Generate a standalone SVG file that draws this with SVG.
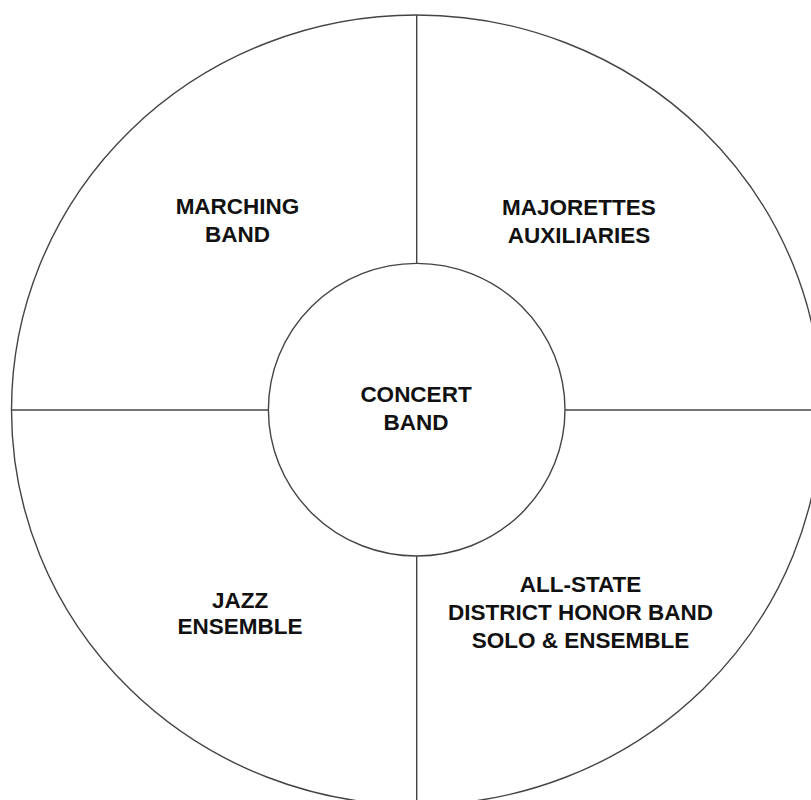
<svg xmlns="http://www.w3.org/2000/svg" width="811" height="800" viewBox="0 0 811 800">
<style>
.ln{fill:none;stroke:#444;stroke-width:1.4}
.t{font-family:"Liberation Sans",Arial,sans-serif;font-weight:bold;font-size:22.5px;fill:#111;text-anchor:middle}
</style>
<rect width="811" height="800" fill="#fff"/>
<g id="outer"><ellipse class="ln" cx="416.5" cy="410" rx="405" ry="395"/></g>
<g id="connectors">
<line class="ln" x1="11.5" y1="410" x2="268.5" y2="410"/>
<line class="ln" x1="565" y1="410" x2="811" y2="410"/>
<line class="ln" x1="416.7" y1="15" x2="416.7" y2="263.5"/>
<line class="ln" x1="416.7" y1="556" x2="416.7" y2="800"/>
</g>
<g id="concert-band">
<ellipse class="ln" cx="416.7" cy="409.7" rx="148.3" ry="146.3"/>
<text class="t" x="416" y="402">CONCERT</text>
<text class="t" x="416" y="429.5">BAND</text>
</g>
<g id="marching-band">
<text class="t" x="237.5" y="214">MARCHING</text>
<text class="t" x="237.5" y="241.7">BAND</text>
</g>
<g id="majorettes">
<text class="t" x="579" y="215">MAJORETTES</text>
<text class="t" x="579" y="242.5">AUXILIARIES</text>
</g>
<g id="jazz-ensemble">
<text class="t" x="240" y="607.5">JAZZ</text>
<text class="t" x="240" y="634">ENSEMBLE</text>
</g>
<g id="all-state">
<text class="t" x="580.5" y="592">ALL-STATE</text>
<text class="t" x="580.5" y="620">DISTRICT HONOR BAND</text>
<text class="t" x="580.5" y="648">SOLO &amp; ENSEMBLE</text>
</g>
</svg>
